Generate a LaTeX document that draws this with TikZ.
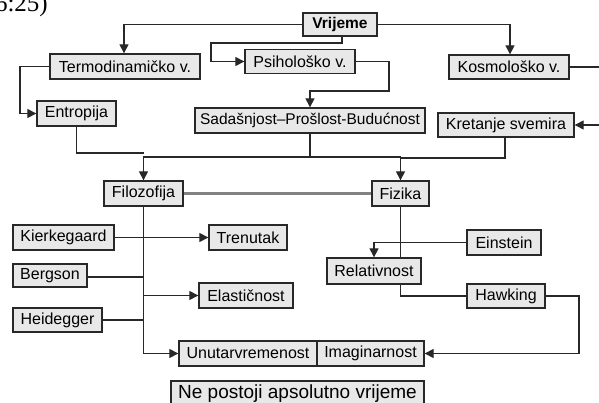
\documentclass[tikz,border=0pt]{standalone}
\usepackage{fontspec}
\setmainfont{Liberation Sans}
\newfontfamily\serifx{Liberation Serif}
\usetikzlibrary{arrows.meta}
\definecolor{boxfill}{RGB}{232,232,232}
\definecolor{boxline}{RGB}{40,40,40}
\definecolor{linkgray}{RGB}{130,130,130}
\tikzset{
  bx/.style={draw=boxline, fill=boxfill, line width=1.3pt, inner sep=0pt,
    font=\fontsize{16}{19}\selectfont, text=black},
  con/.style={draw=boxline, line width=1.1pt},
  arr/.style={con, -{Triangle[length=9pt,width=9pt]}},
}
\begin{document}
\begin{tikzpicture}[x=1pt,y=-1pt]
\useasboundingbox (0,0) rectangle (599,403);
% clipped time stamp
\node[anchor=base east, inner sep=0pt, font=\serifx\fontsize{25}{28}\selectfont] (stamp) at (48,12) {6:25)};
% nodes
\node[bx, minimum width=74pt, minimum height=23pt, font=\bfseries\fontsize{15.5}{18}\selectfont] (vrijeme) at (340,24.5) {Vrijeme};
\node[bx, minimum width=150pt, minimum height=25pt] (termo) at (125,66.5) {Termodinamičko v.};
\node[bx, minimum width=110pt, minimum height=24pt] (psih) at (300,61.5) {Psihološko v.};
\node[bx, minimum width=120pt, minimum height=24pt] (kosmo) at (509,67) {Kosmološko v.};
\node[bx, minimum width=79pt, minimum height=25pt] (entropija) at (76.5,113.5) {Entropija};
\node[bx, minimum width=230pt, minimum height=25pt, font=\fontsize{15.5}{18}\selectfont] (sadas) at (310,120.5) {Sadašnjost–Prošlost-Budućnost};
\node[bx, minimum width=136pt, minimum height=24pt] (kretanje) at (506,125) {Kretanje svemira};
\node[bx, minimum width=79pt, minimum height=25pt] (filozofija) at (143.5,193.5) {Filozofija};
\node[bx, minimum width=57pt, minimum height=25pt] (fizika) at (400.5,193.5) {Fizika};
\node[bx, minimum width=101pt, minimum height=25pt] (kierk) at (63.5,237.5) {Kierkegaard};
\node[bx, minimum width=78pt, minimum height=25pt] (trenutak) at (248,237.5) {Trenutak};
\node[bx, minimum width=74pt, minimum height=23pt] (bergson) at (50,275.5) {Bergson};
\node[bx, minimum width=74pt, minimum height=25pt] (einstein) at (504,242.5) {Einstein};
\node[bx, minimum width=94pt, minimum height=26pt] (relat) at (374,271) {Relativnost};
\node[bx, minimum width=94pt, minimum height=25pt] (elast) at (246,295.5) {Elastičnost};
\node[bx, minimum width=89pt, minimum height=24pt] (heid) at (57.5,320) {Heidegger};
\node[bx, minimum width=78pt, minimum height=24pt] (hawking) at (506,296) {Hawking};
\node[bx, minimum width=138pt, minimum height=25pt] (unutar) at (248,353.5) {Unutarvremenost};
\node[bx, minimum width=107pt, minimum height=25pt] (imag) at (370.5,353.5) {Imaginarnost};
\node[bx, minimum width=253pt, minimum height=25pt, font=\fontsize{19}{22}\selectfont] (nepost) at (297.5,393.5) {Ne postoji apsolutno vrijeme};
% coordinates
\coordinate (farR) at (606,67);
% connectors
\draw[arr] (vrijeme.west) -- (124,24.5) -- (termo.north -| 124,0);
\draw[arr] (vrijeme.south -| 342,0) -- (342,43) -- (211,43) -- (211,61.5) -- (psih.west);
\draw[arr] (vrijeme.east) -- (510,24.5) -- (kosmo.north -| 510,0);
\draw[arr] (termo.west) -- (20,66.5) -- (20,113.5) -- (entropija.west);
\draw[arr] (psih.east) -- (389,61.5) -- (389,91) -- (310,91) -- (sadas.north);
\draw[arr] (kosmo.east) -- (farR) -- (606,125) -- (kretanje.east);
\draw[con] (entropija.south) -- (76.5,153) -- (143.5,153);
\draw[arr] (sadas.south) -- (310,157) -- (143.5,157) -- (filozofija.north);
\draw[arr] (310,157) -- (400.5,157) -- (fizika.north);
\draw[con] (kretanje.south -| 505,0) -- (505,158) -- (400.5,158);
\draw[linkgray, line width=2.2pt] (filozofija.east) -- (fizika.west);
\draw[con] (fizika.south) -- (relat.north -| 400.5,0);
\draw[arr] (einstein.west) -- (374,242.5) -- (relat.north);
\draw[con] (relat.south -| 400.5,0) -- (400.5,296) -- (hawking.west);
\draw[arr] (hawking.east) -- (579,296) -- (579,353.5) -- (imag.east);
\draw[arr] (kierk.east) -- (trenutak.west);
\draw[arr] (bergson.east |- 0,277) -- (143.5,277) -- (143.5,295.5) -- (elast.west);
\draw[con] (heid.east) -- (143.5,320);
\draw[arr] (filozofija.south) -- (143.5,353.5) -- (unutar.west);
\end{tikzpicture}
\end{document}
